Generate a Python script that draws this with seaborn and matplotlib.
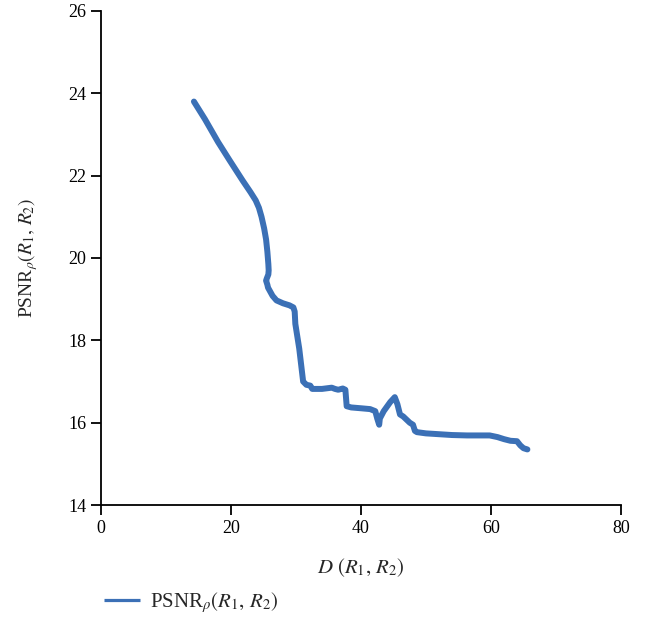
import matplotlib
matplotlib.use("Agg")
import matplotlib.pyplot as plt
import seaborn as sns
import pandas as pd

# data
d_vals = [14.3, 16.0, 18.0, 19.8, 21.8, 23.0, 23.8, 24.3, 24.7, 25.1, 25.4, 25.6, 25.75, 25.8, 25.75, 25.5, 25.4, 25.6,
          25.7, 26.4, 27.0, 28.0, 29.0, 29.6, 29.8, 29.9, 30.2, 30.5, 30.8, 31.1,
          31.6, 32.2, 32.5, 33.0, 34.0, 35.5, 36.0, 36.5, 37.2, 37.6, 37.8, 38.5,
          40.0, 41.4, 42.2, 42.5, 42.8, 42.9, 43.5, 44.5, 45.2, 45.6, 46.0, 46.5,
          47.5, 48.0, 48.3, 48.6, 50.0, 52.0, 54.0, 56.3, 58.0, 59.8, 61.0, 62.0,
          63.0, 64.0, 64.5, 65.0, 65.6]
psnr_vals = [23.8, 23.37, 22.82, 22.37, 21.88, 21.6, 21.4, 21.22, 21.0, 20.72, 20.45, 20.15, 19.85, 19.7, 19.6, 19.5, 19.45, 19.35,
             19.28, 19.08, 18.97, 18.9, 18.85, 18.8, 18.7, 18.4, 18.1, 17.8, 17.4, 17.0,
             16.92, 16.9, 16.82, 16.82, 16.82, 16.85, 16.82, 16.8, 16.83, 16.8, 16.4, 16.37,
             16.35, 16.33, 16.28, 16.1, 15.95, 16.1, 16.28, 16.5, 16.62, 16.45, 16.2, 16.15,
             16.0, 15.95, 15.8, 15.77, 15.74, 15.72, 15.7, 15.69, 15.69, 15.69, 15.65, 15.6,
             15.56, 15.55, 15.45, 15.38, 15.35]

x_ticks = [0, 20, 40, 60, 80]
y_ticks = [14, 16, 18, 20, 22, 24, 26]
series_label = r"PSNR$_\rho(R_1,\, R_2)$"

df = pd.DataFrame({"D": d_vals, "PSNR": psnr_vals})

sns.set_style("ticks")
plt.rcParams["font.family"] = ["Liberation Serif", "DejaVu Serif"]
plt.rcParams["mathtext.fontset"] = "stix"

fig = plt.figure(figsize=(6.46, 6.17), dpi=100)
ax = fig.add_axes([0.1563, 0.1815, 0.805, 0.8007])

sns.lineplot(data=df, x="D", y="PSNR", sort=False, estimator=None, ax=ax,
             color="#3b70b6", linewidth=4.3, label=series_label,
             solid_capstyle="round", solid_joinstyle="round")

ax.set_xlim(0, 80)
ax.set_ylim(14, 26)
ax.set_xticks(x_ticks)
ax.set_yticks(y_ticks)
ax.tick_params(axis="both", direction="out", length=7, width=1.3, labelsize=13, colors="black")
for s in ["top", "right"]:
    ax.spines[s].set_visible(False)
for s in ["left", "bottom"]:
    ax.spines[s].set_linewidth(1.3)
    ax.spines[s].set_color("black")

ax.set_xlabel(r"$D\ (R_1,\, R_2)$", fontsize=15, labelpad=14)
ax.set_ylabel(series_label, fontsize=14, labelpad=20)

leg = ax.legend(loc="upper left", bbox_to_anchor=(-0.03, -0.135), frameon=False,
                fontsize=15, handlelength=1.7, handletextpad=0.5)
for h in leg.get_lines():
    h.set_linewidth(2.3)
    h.set_solid_capstyle("butt")

fig.savefig("out.png", dpi=100)
